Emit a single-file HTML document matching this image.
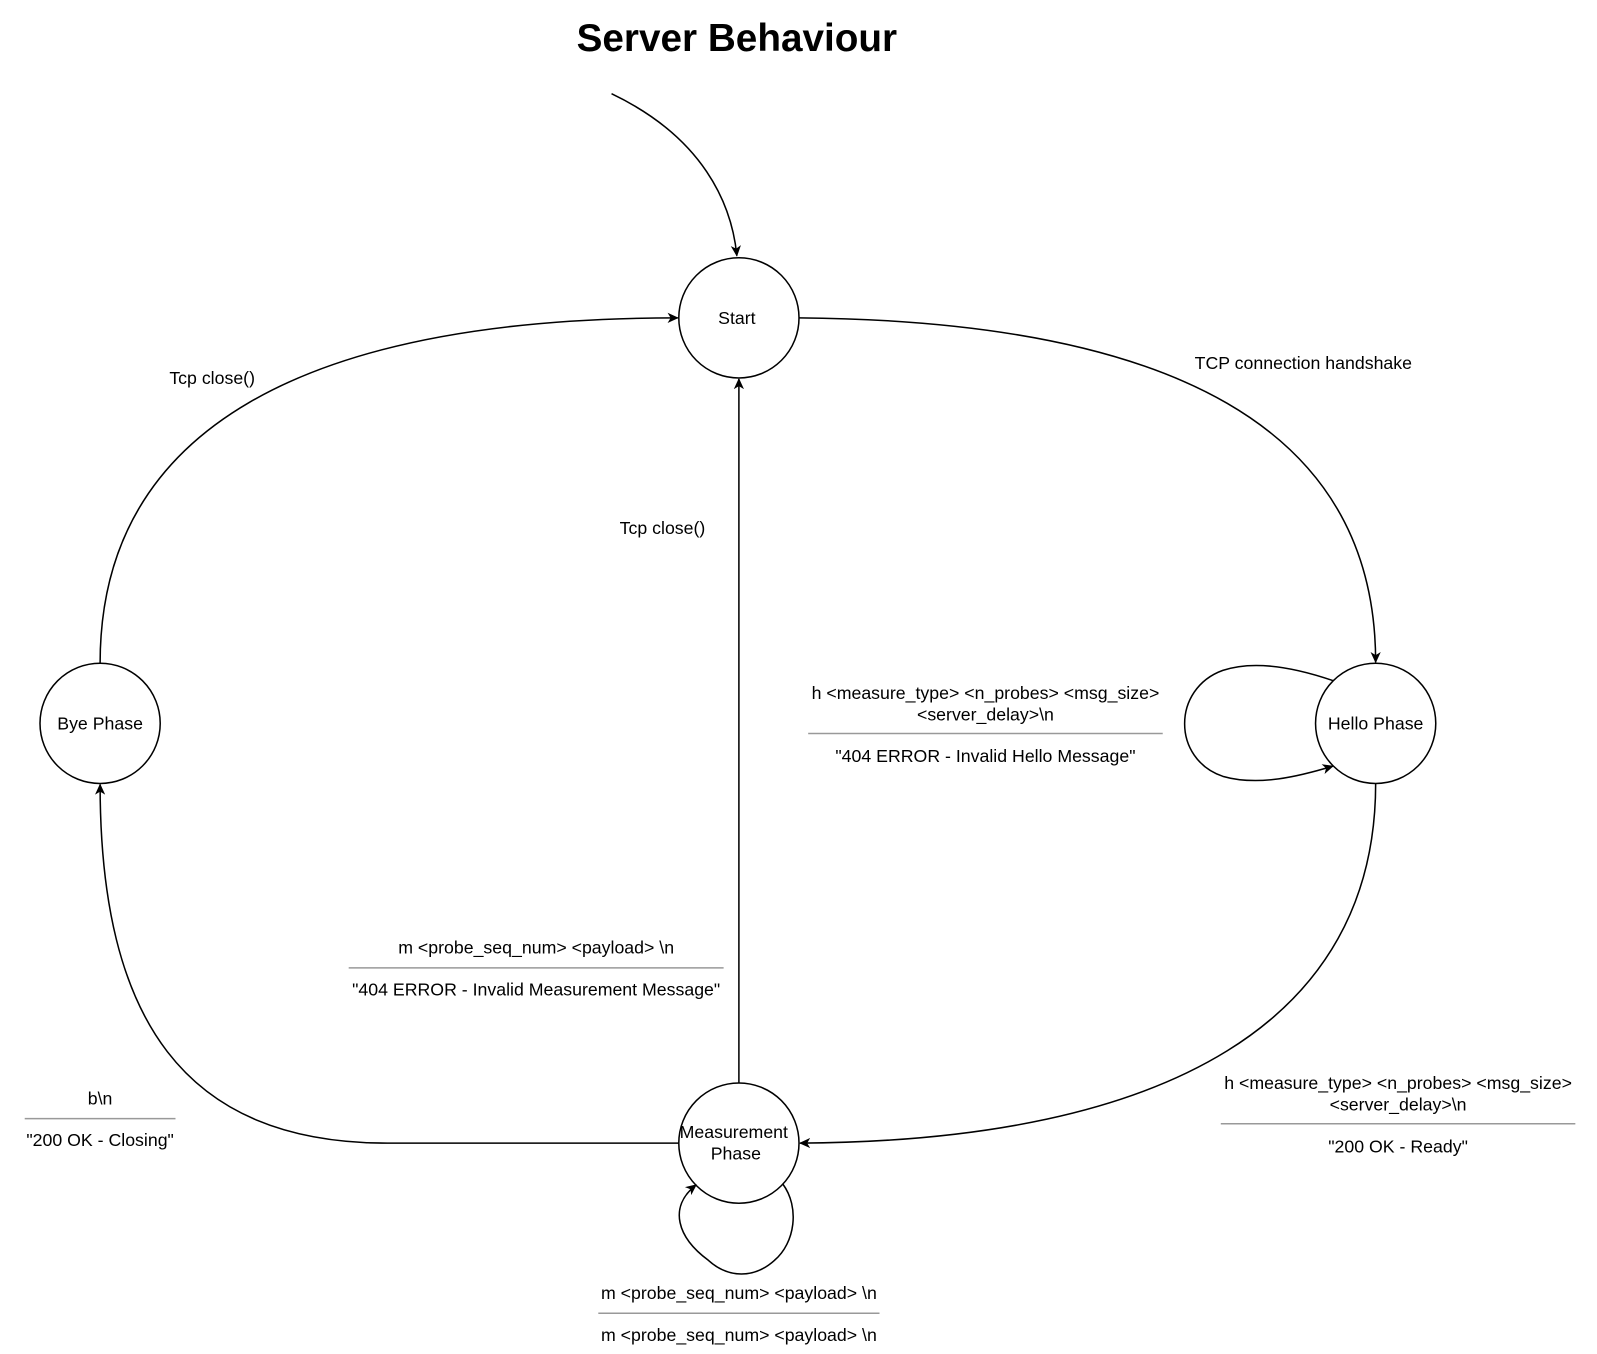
<!DOCTYPE html>
<html><head><meta charset="utf-8"><style>
html,body{margin:0;padding:0;background:#fff;}
svg{display:block;}
text{font-family:"Liberation Sans",sans-serif;fill:#000;}
</style></head><body>
<svg width="1597" height="1354" viewBox="0 0 1567 1329" xmlns="http://www.w3.org/2000/svg">
<defs><marker id="a" markerWidth="12" markerHeight="12" refX="10" refY="6" orient="auto" markerUnits="userSpaceOnUse"><path d="M0,1 L11,6 L0,11 L3,6 Z" fill="#000"/></marker></defs>
<text x="723" y="50" font-size="38" font-weight="bold" text-anchor="middle">Server Behaviour</text>
<g fill="none" stroke="#000" stroke-width="1.5">
<circle cx="725" cy="312" r="59"/>
<circle cx="1350" cy="710" r="59"/>
<circle cx="98" cy="710" r="59"/>
<circle cx="725" cy="1122" r="59"/>
<path d="M600,92 C690,135 718,200 723,251" marker-end="url(#a)"/>
<path d="M784,312 C1150,315 1350,420 1350,650" marker-end="url(#a)"/>
<path d="M1350,769 C1350,1000 1150,1120 785,1122" marker-end="url(#a)"/>
<path d="M666,1122 L380,1122 C180,1122 98,1000 98,770" marker-end="url(#a)"/>
<path d="M98,651 C98,420 300,312 665,312" marker-end="url(#a)"/>
<path d="M725,1063 L725,372" marker-end="url(#a)"/>
<path d="M1308,668 C1270,655 1230,648 1200,658 C1150,676 1150,745 1200,762 C1235,772 1275,762 1308,752" marker-end="url(#a)"/>
<path d="M768,1162 C785,1185 780,1220 760,1237 C740,1255 715,1255 695,1237 C665,1215 655,1185 683,1163" marker-end="url(#a)"/>
</g>
<g font-size="17.4" text-anchor="middle">
<text x="723" y="318">Start</text>
<text x="1350" y="716">Hello Phase</text>
<text x="98" y="716">Bye Phase</text>
<text x="720" y="1117">Measurement</text>
<text x="722" y="1138">Phase</text>
<text x="1279" y="362">TCP connection handshake</text>
<text x="208" y="377">Tcp close()</text>
<text x="650" y="524">Tcp close()</text>
<text x="967" y="686">h &lt;measure_type&gt; &lt;n_probes&gt; &lt;msg_size&gt;</text>
<text x="967" y="707">&lt;server_delay&gt;\n</text>
<text x="967" y="748">"404 ERROR - Invalid Hello Message"</text>
<text x="526" y="936">m &lt;probe_seq_num&gt; &lt;payload&gt; \n</text>
<text x="526" y="977">"404 ERROR - Invalid Measurement Message"</text>
<text x="98" y="1084">b\n</text>
<text x="98" y="1125">"200 OK - Closing"</text>
<text x="1372" y="1069">h &lt;measure_type&gt; &lt;n_probes&gt; &lt;msg_size&gt;</text>
<text x="1372" y="1090">&lt;server_delay&gt;\n</text>
<text x="1372" y="1131">"200 OK - Ready"</text>
<text x="725" y="1275">m &lt;probe_seq_num&gt; &lt;payload&gt; \n</text>
<text x="725" y="1316">m &lt;probe_seq_num&gt; &lt;payload&gt; \n</text>
</g>
<g stroke="#999" stroke-width="1.5">
<line x1="793" y1="720" x2="1141" y2="720"/>
<line x1="342" y1="950" x2="710" y2="950"/>
<line x1="24" y1="1098" x2="172" y2="1098"/>
<line x1="1198" y1="1103" x2="1546" y2="1103"/>
<line x1="587" y1="1289" x2="863" y2="1289"/>
</g>
</svg>
</body></html>
